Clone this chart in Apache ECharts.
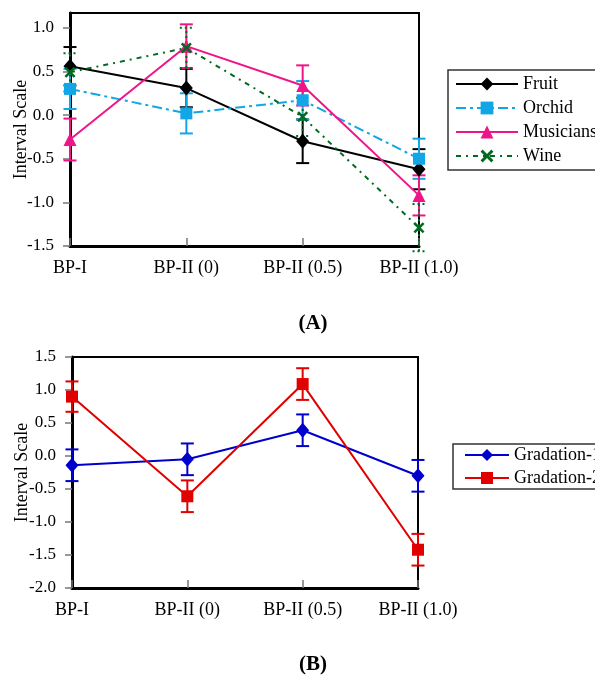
<!DOCTYPE html>
<html>
<head>
<meta charset="utf-8">
<script src="https://cdn.jsdelivr.net/npm/echarts@6/dist/echarts.min.js"></script>
<style>
  html, body { margin: 0; padding: 0; background: #fff; }
  #main { width: 595px; height: 679px; }
</style>
</head>
<body>
<div id="main"></div>
<script>
// categories shared by both panels
var categories = ["BP-I", "BP-II (0)", "BP-II (0.5)", "BP-II (1.0)"];

// y tick values
var yTicksA = [-1.5, -1.0, -0.5, 0.0, 0.5, 1.0];
var yTicksB = [-2.0, -1.5, -1.0, -0.5, 0.0, 0.5, 1.0, 1.5];

// panel A
var fruit = [0.56, 0.31, -0.30, -0.62];
var fruitErr = [0.22, 0.22, 0.25, 0.23];
var orchid = [0.30, 0.02, 0.17, -0.50];
var orchidErr = [0.23, 0.23, 0.22, 0.23];
var musicians = [-0.28, 0.79, 0.34, -0.92];
var musiciansErr = [0.24, 0.25, 0.23, 0.23];
var wine = [0.49, 0.77, -0.02, -1.29];
var wineErr = [0.22, 0.23, 0.22, 0.27];

// panel B
var grad1 = [-0.14, -0.05, 0.39, -0.30];
var grad1Err = [0.24, 0.24, 0.24, 0.24];
var grad2 = [0.90, -0.61, 1.09, -1.42];
var grad2Err = [0.23, 0.24, 0.24, 0.24];

var FONT = "'Liberation Serif', 'Times New Roman', serif";
var crossPath = "path://M0,1.6 L1.6,0 L5,3.4 L8.4,0 L10,1.6 L6.6,5 L10,8.4 L8.4,10 L5,6.6 L1.6,10 L0,8.4 L3.4,5 Z";

function errData(vals, errs) {
    return vals.map(function(v, i) {
        return [i, v - errs[i], v + errs[i]];
    });
}

function errRender(color, dash) {
    return function(params, api) {
        var x = api.value(0);
        var lo = api.coord([x, api.value(1)]);
        var hi = api.coord([x, api.value(2)]);
        var w = 6.5;
        var st = { stroke: color, lineWidth: 2, lineDash: dash || null };
        return {
            type: "group",
            children: [
                { type: "line", shape: { x1: lo[0], y1: lo[1], x2: hi[0], y2: hi[1] }, style: st },
                { type: "line", shape: { x1: hi[0] - w, y1: hi[1], x2: hi[0] + w, y2: hi[1] }, style: st },
                { type: "line", shape: { x1: lo[0] - w, y1: lo[1], x2: lo[0] + w, y2: lo[1] }, style: st }
            ]
        };
    };
}

function lineSeries(name, data, color, symbol, size, dash, axis) {
    return {
        name: name,
        type: "line",
        xAxisIndex: axis,
        yAxisIndex: axis,
        data: data,
        symbol: symbol,
        symbolSize: size,
        showAllSymbol: true,
        lineStyle: { color: color, width: 2, type: dash || "solid" },
        itemStyle: { color: color },
        z: 3
    };
}

function errSeries(vals, errs, color, dash, axis) {
    return {
        type: "custom",
        xAxisIndex: axis,
        yAxisIndex: axis,
        data: errData(vals, errs),
        encode: { x: 0, y: [1, 2] },
        renderItem: errRender(color, dash),
        clip: false,
        silent: true,
        z: 2
    };
}

var C_FRUIT = "#000000", C_ORCHID = "#12a6e6", C_MUS = "#ee1588", C_WINE = "#006a1e";
var C_G1 = "#0000cc", C_G2 = "#e00000";

function xAxis(gridIndex) {
    return {
        type: "category",
        gridIndex: gridIndex,
        data: categories,
        boundaryGap: false,
        axisLine: { onZero: false, lineStyle: { color: "#000", width: 3 } },
        axisTick: { inside: true, length: 8, lineStyle: { color: "#777", width: 1.5 } },
        axisLabel: { color: "#000", fontFamily: FONT, fontSize: 18, margin: 13 },
        splitLine: { show: false }
    };
}

function yAxis(gridIndex, min, max, gap, ticks) {
    return {
        type: "value",
        gridIndex: gridIndex,
        min: min,
        max: max,
        interval: 0.5,
        name: "Interval Scale",
        nameLocation: "middle",
        nameGap: gap,
        nameMoveOverlap: false,
        nameTextStyle: { color: "#000", fontFamily: FONT, fontSize: 18 },
        axisLine: { show: true, onZero: false, lineStyle: { color: "#000", width: 3 } },
        axisTick: { show: true, inside: false, length: 7, customValues: ticks, lineStyle: { color: "#777", width: 1.5 } },
        axisLabel: {
            color: "#000", fontFamily: FONT, fontSize: 17, margin: 16,
            customValues: ticks,
            formatter: function(v) {
                return Number(v).toFixed(1);
            }
        },
        splitLine: { show: false }
    };
}

var chart = echarts.init(document.getElementById("main"), null, { renderer: "canvas" });

chart.setOption({
    animation: false,
    backgroundColor: "#fff",
    textStyle: { fontFamily: FONT },
    grid: [
        { left: 70, top: 13, width: 349, height: 233, show: true, borderColor: "#000", borderWidth: 2, backgroundColor: "transparent", containLabel: false, outerBoundsMode: "none" },
        { left: 72, top: 357, width: 346, height: 231, show: true, borderColor: "#000", borderWidth: 2, backgroundColor: "transparent", containLabel: false, outerBoundsMode: "none" }
    ],
    xAxis: [xAxis(0), xAxis(1)],
    yAxis: [yAxis(0, -1.5, 1.17, 40, yTicksA), yAxis(1, -2.0, 1.5, 41, yTicksB)],
    legend: [
        {
            data: ["Fruit", "Orchid", "Musicians", "Wine"],
            orient: "vertical",
            left: 448,
            top: 70,
            itemWidth: 62,
            itemHeight: 16,
            itemGap: 6,
            padding: [5, 8, 5, 7],
            borderColor: "#333",
            borderWidth: 1.5,
            borderRadius: 0,
            textStyle: { color: "#000", fontFamily: FONT, fontSize: 18 },
            selectedMode: false
        },
        {
            data: ["Gradation-1", "Gradation-2"],
            orient: "vertical",
            left: 453,
            top: 444,
            itemWidth: 44,
            itemHeight: 15,
            itemGap: 5,
            padding: [2, 8, 2, 11],
            borderColor: "#333",
            borderWidth: 1.5,
            borderRadius: 0,
            textStyle: { color: "#000", fontFamily: FONT, fontSize: 18 },
            selectedMode: false
        }
    ],
    graphic: [
        { type: "text", style: { x: 313, y: 324, text: "(A)", font: "bold 21px " + FONT, fill: "#000", align: "center", verticalAlign: "middle" } },
        { type: "text", style: { x: 313, y: 665, text: "(B)", font: "bold 21px " + FONT, fill: "#000", align: "center", verticalAlign: "middle" } }
    ],
    series: [
        errSeries(fruit, fruitErr, C_FRUIT, null, 0),
        errSeries(orchid, orchidErr, C_ORCHID, null, 0),
        errSeries(musicians, musiciansErr, C_MUS, null, 0),
        errSeries(wine, wineErr, C_WINE, [2, 3], 0),
        lineSeries("Fruit", fruit, C_FRUIT, "diamond", [13, 15], "solid", 0),
        lineSeries("Orchid", orchid, C_ORCHID, "rect", 12, [10, 4, 3, 4], 0),
        lineSeries("Musicians", musicians, C_MUS, "triangle", 13, "solid", 0),
        lineSeries("Wine", wine, C_WINE, crossPath, 11, [5, 5, 2, 5], 0),
        errSeries(grad1, grad1Err, C_G1, null, 1),
        errSeries(grad2, grad2Err, C_G2, null, 1),
        lineSeries("Gradation-1", grad1, C_G1, "diamond", [13, 15], "solid", 1),
        lineSeries("Gradation-2", grad2, C_G2, "rect", 12, "solid", 1)
    ]
});
</script>
</body>
</html>
